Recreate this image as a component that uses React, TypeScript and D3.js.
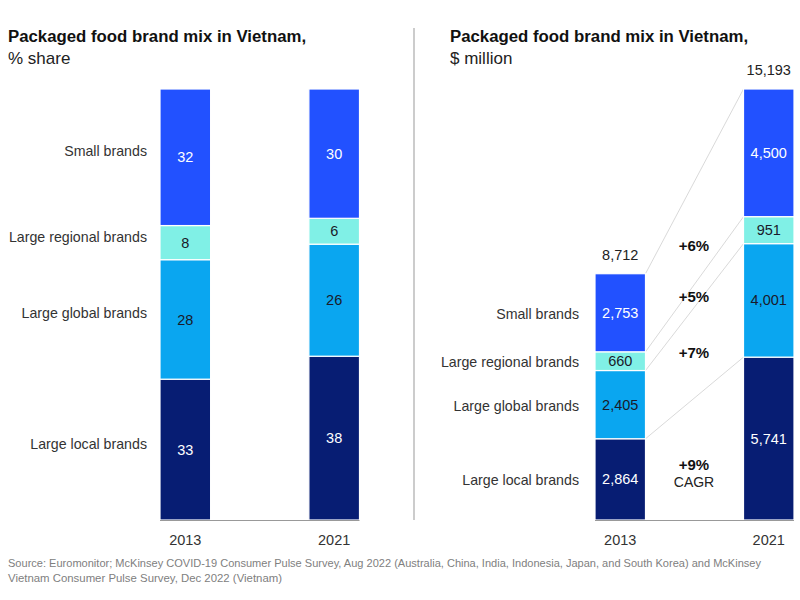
import React from "react";
import * as d3 from "d3";

const years = ["2013", "2021"];
const categories = ["Large local brands", "Large global brands", "Large regional brands", "Small brands"];
const colors = ["#071d73", "#0aa6f0", "#80f0e6", "#2251ff"];
const textColors = ["#ffffff", "#1a1a2a", "#1a1a2a", "#ffffff"];
const share2013 = [33, 28, 8, 32];
const share2021 = [38, 26, 6, 30];
const value2013 = [2864, 2405, 660, 2753];
const value2021 = [5741, 4001, 951, 4500];
const totals = [8712, 15193];
const cagrLabels = ["+9%", "+7%", "+5%", "+6%"];
const cagrDy = [6, 0, 0, 12];

const FONT = "'Liberation Sans', Arial, sans-serif";

function buildRows(a: number[], b: number[]) {
  return [a, b].map((arr, yi) => {
    const row: any = { year: years[yi] };
    categories.forEach((c, i) => (row[c] = arr[i]));
    return row;
  });
}

export default function App() {
  const top = 89;
  const base = 520;

  // Left chart
  const xL = d3.scaleBand<string>().domain(years).range([160, 359.5]).paddingInner(0.66).paddingOuter(0);
  const yL = d3.scaleLinear().domain([0, 1]).range([base, top]);
  const stackL = d3.stack<any>().keys(categories).offset(d3.stackOffsetExpand)(buildRows(share2013, share2021));
  const rawL = [share2013, share2021];

  // Right chart
  const xR = d3.scaleBand<string>().domain(years).range([595, 794]).paddingInner(0.66).paddingOuter(0);
  const yR = d3.scaleLinear().domain([0, d3.max(totals) as number]).range([base, top]);
  const stackR = d3.stack<any>().keys(categories)(buildRows(value2013, value2021));
  const rawR = [value2013, value2021];
  const fmt = d3.format(",");

  const bwL = xL.bandwidth();
  const bwR = xR.bandwidth();

  const x13R = (xR("2013") as number) + bwR;
  const x21R = xR("2021") as number;
  const xc = 694;
  const t = (xc - x13R) / (x21R - x13R);

  return (
    <svg width={800} height={600} style={{ position: "absolute", left: 0, top: 0, background: "#fff" }} fontFamily={FONT}>
      {/* Titles */}
      <text x={8} y={42} fontSize={16.8} fontWeight="bold" fill="#111">Packaged food brand mix in Vietnam,</text>
      <text x={8} y={64} fontSize={17} fill="#222">% share</text>
      <text x={450} y={42} fontSize={16.8} fontWeight="bold" fill="#111">Packaged food brand mix in Vietnam,</text>
      <text x={450} y={64} fontSize={17} fill="#222">$ million</text>

      {/* Separator */}
      <line x1={414} x2={414} y1={28} y2={520} stroke="#bbbbbb" strokeWidth={1.5} />

      {/* Left bars */}
      {stackL.map((s, ci) => (
        <g key={"L" + ci}>
          {s.map((d, yi) => {
            const x = xL(years[yi]) as number;
            const y0 = yL(d[1]);
            const y1 = yL(d[0]);
            return (
              <g key={yi}>
                <rect x={x} y={y0} width={bwL} height={y1 - y0} fill={colors[ci]} stroke="#fff" strokeWidth={1.2} />
                <text x={x + bwL / 2} y={(y0 + y1) / 2} dy="0.35em" textAnchor="middle" fontSize={14.5} fill={textColors[ci]}>
                  {rawL[yi][ci]}
                </text>
              </g>
            );
          })}
          <text
            x={147}
            y={(yL(s[0][0]) + yL(s[0][1])) / 2 - 6}
            dy="0.35em"
            textAnchor="end"
            fontSize={14.2}
            fill="#333"
          >
            {categories[ci]}
          </text>
        </g>
      ))}
      <line x1={xL("2013") as number} x2={(xL("2021") as number) + bwL} y1={base + 0.5} y2={base + 0.5} stroke="#999" strokeWidth={1} />
      {years.map((yr) => (
        <text key={"yl" + yr} x={(xL(yr) as number) + bwL / 2} y={545} textAnchor="middle" fontSize={14.5} fill="#333">{yr}</text>
      ))}

      {/* Right connectors */}
      {stackR.map((s, ci) => (
        <line
          key={"c" + ci}
          x1={x13R}
          y1={yR(s[0][1])}
          x2={x21R}
          y2={yR(s[1][1])}
          stroke="#cfcfcf"
          strokeWidth={0.8}
        />
      ))}

      {/* Right bars */}
      {stackR.map((s, ci) => (
        <g key={"R" + ci}>
          {s.map((d, yi) => {
            const x = xR(years[yi]) as number;
            const y0 = yR(d[1]);
            const y1 = yR(d[0]);
            return (
              <g key={yi}>
                <rect x={x} y={y0} width={bwR} height={y1 - y0} fill={colors[ci]} stroke="#fff" strokeWidth={1.2} />
                <text x={x + bwR / 2} y={(y0 + y1) / 2} dy="0.35em" textAnchor="middle" fontSize={14.5} fill={textColors[ci]}>
                  {fmt(rawR[yi][ci])}
                </text>
              </g>
            );
          })}
          <text
            x={579}
            y={(yR(s[0][0]) + yR(s[0][1])) / 2 + 1}
            dy="0.35em"
            textAnchor="end"
            fontSize={14.2}
            fill="#333"
          >
            {categories[ci]}
          </text>
        </g>
      ))}
      {/* CAGR labels */}
      {stackR.map((s, ci) => {
        const lo = yR(s[0][0]) * (1 - t) + yR(s[1][0]) * t;
        const hi = yR(s[0][1]) * (1 - t) + yR(s[1][1]) * t;
        const mid = (lo + hi) / 2 + cagrDy[ci];
        return (
          <g key={"g" + ci}>
            <text x={xc} y={mid} dy="0.35em" textAnchor="middle" fontSize={15} fontWeight="bold" fill="#111">
              {cagrLabels[ci]}
            </text>
            {ci === 0 && (
              <text x={xc} y={mid + 17} dy="0.35em" textAnchor="middle" fontSize={14} fill="#222">CAGR</text>
            )}
          </g>
        );
      })}
      {/* Totals */}
      {stackR[stackR.length - 1].map((d, yi) => (
        <text key={"t" + yi} x={(xR(years[yi]) as number) + bwR / 2} y={yR(d[1]) - 14} textAnchor="middle" fontSize={14.5} fill="#222">
          {fmt(totals[yi])}
        </text>
      ))}
      <line x1={xR("2013") as number} x2={(xR("2021") as number) + bwR} y1={base + 0.5} y2={base + 0.5} stroke="#999" strokeWidth={1} />
      {years.map((yr) => (
        <text key={"yr" + yr} x={(xR(yr) as number) + bwR / 2} y={545} textAnchor="middle" fontSize={14.5} fill="#333">{yr}</text>
      ))}

      {/* Source */}
      <text x={8} y={567} fontSize={11.5} fill="#808080" textLength={753} lengthAdjust="spacingAndGlyphs">
        Source: Euromonitor; McKinsey COVID-19 Consumer Pulse Survey, Aug 2022 (Australia, China, India, Indonesia, Japan, and South Korea) and McKinsey
      </text>
      <text x={8} y={582} fontSize={11.5} fill="#808080" textLength={274} lengthAdjust="spacingAndGlyphs">
        Vietnam Consumer Pulse Survey, Dec 2022 (Vietnam)
      </text>
    </svg>
  );
}
